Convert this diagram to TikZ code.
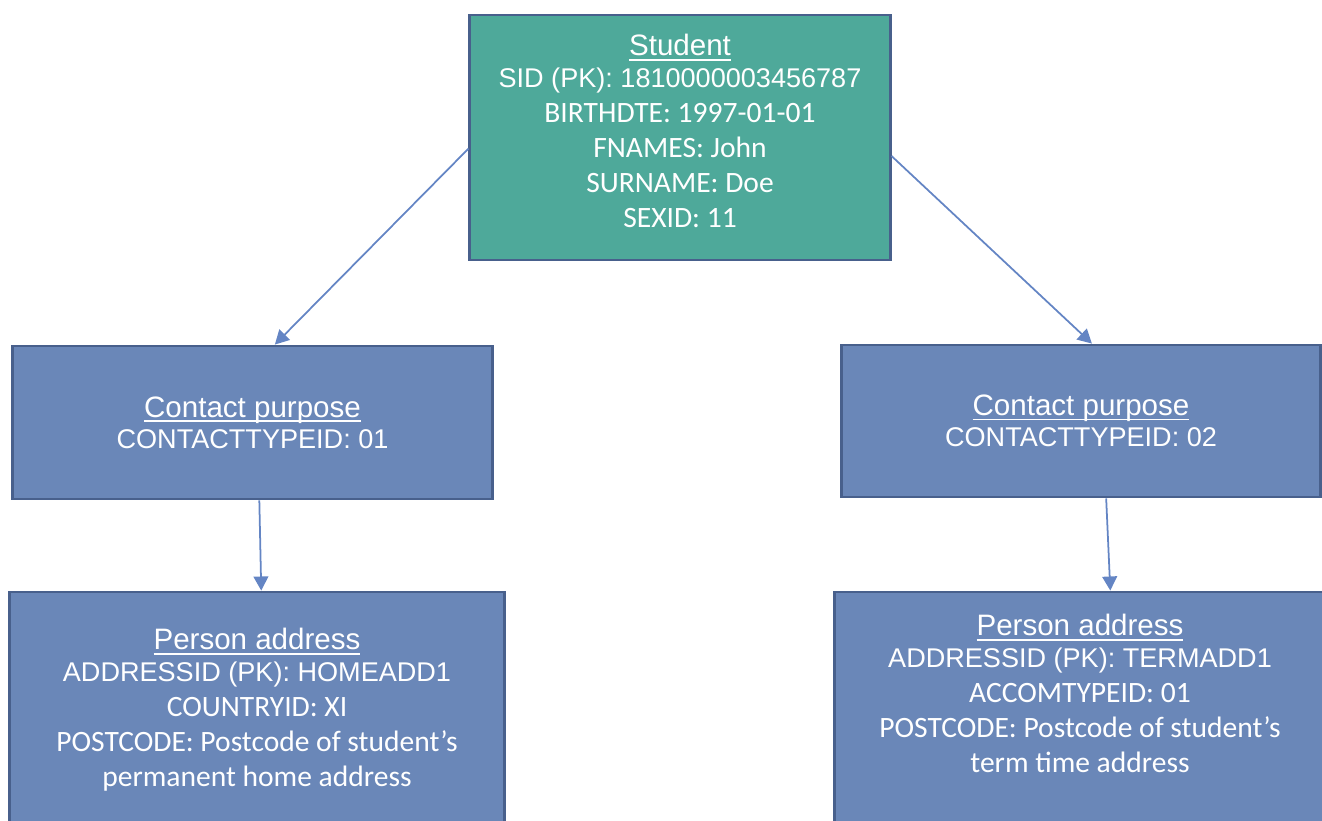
\documentclass[tikz,border=0pt]{standalone}
\usepackage{fontspec}
\setmainfont{Carlito}
\newfontfamily\arialfont{Liberation Sans}
\usepackage{tikz}
\usetikzlibrary{arrows.meta}
\definecolor{tealfill}{RGB}{78,169,154}
\definecolor{bluefill}{RGB}{106,135,184}
\definecolor{boxline}{RGB}{72,96,140}
\definecolor{arrowblue}{RGB}{100,133,196}
\newcommand{\entname}[1]{{\fontsize{8.4}{10}\arialfont\setbox0\hbox{#1}\rlap{\rule[-1.4pt]{\wd0}{0.45pt}}\box0}}
\newcommand{\keyline}[1]{{\fontsize{7.7}{10}\arialfont #1}}
\tikzset{
    entity/.style={draw=boxline, line width=0.8pt, fill=bluefill, text=white, align=center,
        font=\fontsize{8.4}{10}\selectfont, inner sep=2pt},
    link/.style={draw=arrowblue, line width=0.5pt, -{Triangle[length=4pt,width=4.2pt]}}
}

\begin{document}
\begin{tikzpicture}[x=0.01cm,y=-0.01cm]
        \useasboundingbox (0,0) rectangle (1322,820);
    %tables
    \node[entity, fill=tealfill, minimum width=4.2cm, minimum height=2.45cm, text depth=3.7pt] (student) at (680,137.5)
        {\entname{Student}\\[-1.1pt]\keyline{SID (PK): 1810000003456787}\\BIRTHDTE: 1997-01-01\\FNAMES: John\\SURNAME: Doe\\SEXID: 11};
    \node[entity, minimum width=4.79cm, minimum height=1.53cm] (purpose1) at (252.5,422.5)
        {\entname{Contact purpose}\\[-1.1pt]\keyline{CONTACTTYPEID: 01}};
    \node[entity, minimum width=4.78cm, minimum height=1.52cm] (purpose2) at (1081,421)
        {\entname{Contact purpose}\\[-1.1pt]\keyline{CONTACTTYPEID: 02}};
    \node[entity, minimum width=4.94cm, minimum height=2.4cm, text depth=2.6pt] (address1) at (257,712)
        {\entname{Person address}\\[-1.1pt]\keyline{ADDRESSID (PK): HOMEADD1}\\COUNTRYID: XI\\POSTCODE: Postcode of student’s\\permanent home address};
    \node[entity, minimum width=4.9cm, minimum height=2.4cm, text depth=10.5pt] (address2) at (1080,712)
        {\entname{Person address}\\[-1.1pt]\keyline{ADDRESSID (PK): TERMADD1}\\ACCOMTYPEID: 01\\POSTCODE: Postcode of student’s\\term time address};
    %links
    \draw[link] (student.183) -- (purpose1.74);
    \draw[link] (student.355) -- (purpose2.82);
    \draw[link] (purpose1.275) -- (address1.88);
    \draw[link] (purpose2.288) -- (address2.76);
        \end{tikzpicture}
\end{document}
